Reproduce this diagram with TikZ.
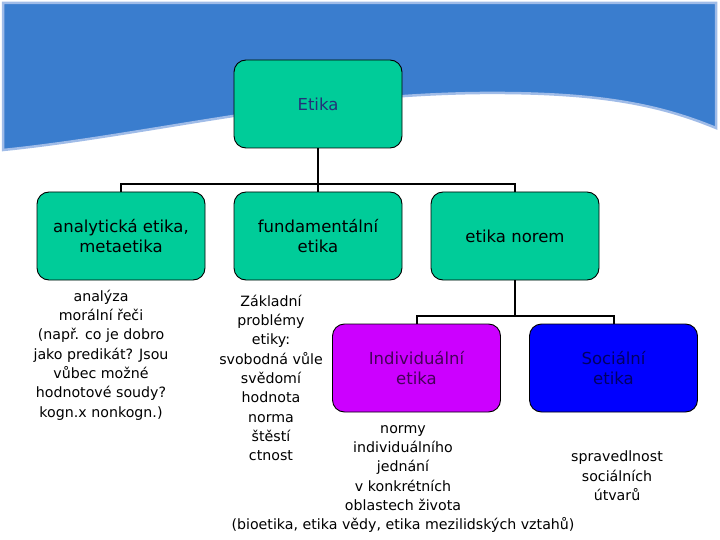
\documentclass[tikz,border=0pt]{standalone}
\usepackage{fontspec}
\setmainfont{DejaVu Sans}

\definecolor{wavblue}{RGB}{58,125,206}
\definecolor{wavedge}{RGB}{160,188,232}
\definecolor{boxgreen}{RGB}{0,204,153}
\definecolor{indivpurple}{RGB}{204,0,255}
\definecolor{socblue}{RGB}{0,0,255}
\definecolor{etikatext}{RGB}{35,50,120}
\definecolor{indivtext}{RGB}{70,0,90}
\definecolor{soctext}{RGB}{0,0,100}

\begin{document}
\begin{tikzpicture}
    [x=1pt, y=-1pt,
      every node/.style={align=center},
      box/.style={draw, line width=0.9pt, rounded corners=12pt, fill=boxgreen, minimum width=168pt, minimum height=88pt, font=\fontsize{16.5}{20}\selectfont},
      note/.style={inner sep=0pt, font=\fontsize{14.2}{19.3}\selectfont},
      level 1/.style={sibling distance=197pt, level distance=132pt},
      level 2/.style={sibling distance=197pt, level distance=132pt},
      edge from parent/.style={draw, line width=2pt},
      edge from parent path={(\tikzparentnode.south) |- ([yshift=8pt]\tikzchildnode.north) -- (\tikzchildnode.north)}]
    \useasboundingbox (0,0) rectangle (720,540);
    % blue wave at the top
    \filldraw[fill=wavblue, draw=wavedge, line width=2.5pt]
      (3,3) -- (716,3) -- (716,128)
      .. controls (660,105) and (600,92) .. (480,93)
      .. controls (300,95) and (150,135) .. (3,150) -- cycle;
    \node[box] (etika) at (318,104) {\color{etikatext}Etika}
    child { node[box] (analyticka) {analytická etika,\\metaetika} }
    child { node[box] (fundamentalni) {fundamentální\\etika} }
    child { node[box] (norem) {etika norem}
        child { node[box, fill=indivpurple, text=indivtext] (individualni) {Individuální\\etika} }
        child { node[box, fill=socblue, text=soctext] (socialni) {Sociální\\etika} }
      };
    % texts under the boxes
    \node[note] (analyza) at (101,355) {analýza\\morální řeči\\(např. co je dobro\\jako predikát? Jsou\\vůbec možné\\hodnotové soudy?\\kogn.x nonkogn.)};
    \node[note] (zakladni) at (271,378) {Základní\\problémy\\etiky:\\svobodná vůle\\svědomí\\hodnota\\norma\\štěstí\\ctnost};
    \node[note] (normyindiv) at (403,479) {normy\\individuálního\\jednání\\v konkrétních\\oblastech života\\(bioetika, etika vědy, etika mezilidských vztahů)};
    \node[note] (spravedlnost) at (617,476) {spravedlnost\\sociálních\\útvarů};
  \end{tikzpicture}
\end{document}
